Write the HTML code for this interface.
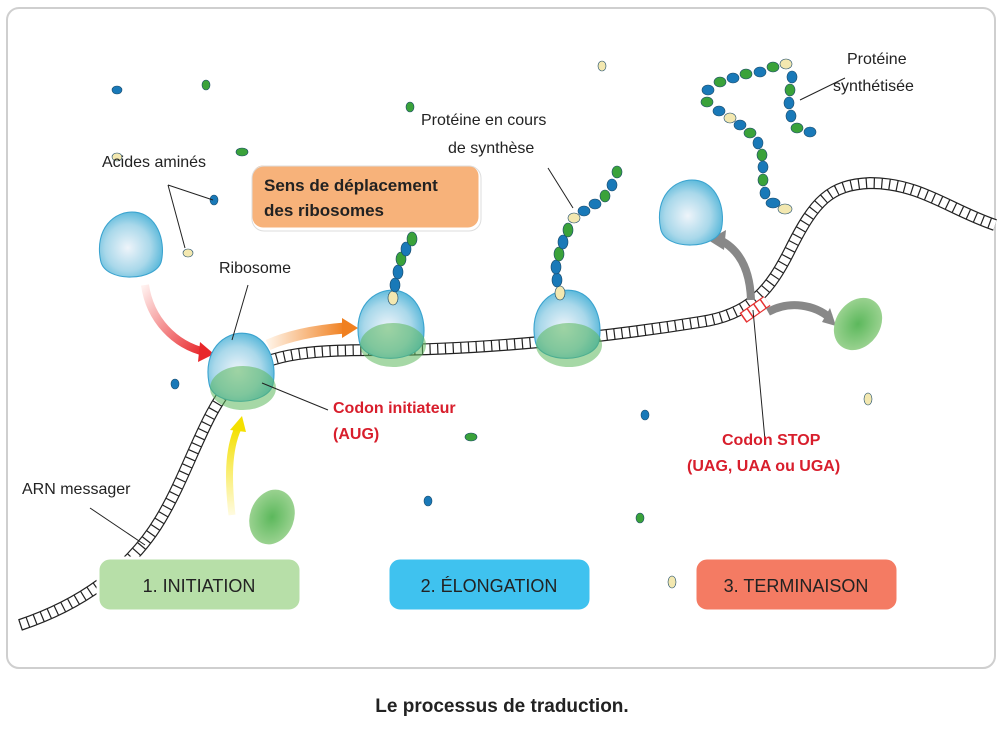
<!DOCTYPE html>
<html><head><meta charset="utf-8"><style>
body{margin:0;background:#fff;width:1000px;height:738px;overflow:hidden}
svg{display:block}
text{font-family:"Liberation Sans",sans-serif}
</style></head><body>
<svg width="1000" height="738" viewBox="0 0 1000 738">
<defs>
<radialGradient id="rb" cx="0.45" cy="0.55" r="0.6"><stop offset="0" stop-color="#eef4fa"/><stop offset="0.6" stop-color="#a9d8ea"/><stop offset="1" stop-color="#4fb4d8"/></radialGradient>
<radialGradient id="gr" cx="0.5" cy="0.5" r="0.6"><stop offset="0" stop-color="#5cb85c"/><stop offset="1" stop-color="#a6d79a"/></radialGradient>
<linearGradient id="redA" x1="0" y1="0" x2="1" y2="1"><stop offset="0" stop-color="#fff0ee"/><stop offset="1" stop-color="#e8262a"/></linearGradient>
<linearGradient id="orA" x1="0" y1="0" x2="1" y2="0"><stop offset="0" stop-color="#fff3e6"/><stop offset="1" stop-color="#f08020"/></linearGradient>
<linearGradient id="yeA" x1="0" y1="1" x2="0" y2="0"><stop offset="0" stop-color="#fffbe0"/><stop offset="1" stop-color="#f4e000"/></linearGradient>
<g id="ribo"><path d="M-28,10 C-34,-20 -15,-38 5,-36 C25,-34 34,-10 30,10 C26,30 -24,32 -28,10Z" fill="url(#rb)" stroke="#3aa3cf" stroke-width="1"/></g>
<path id="m" d="M20,625 C80,605 130,570 160,520 C190,470 205,410 235,380 C265,355 300,350 380,350 C480,350 600,338 700,322 C750,315 770,290 790,250 C815,200 830,185 870,183 C920,183 950,210 995,225"/>
<path id="sc" d="M743,318 L767,301"/>
</defs>
<rect x="7" y="8" width="988" height="660" rx="12" fill="#fff" stroke="#cfcfcf" stroke-width="2"/>

<!-- mRNA -->
<g fill="none">
<use href="#m" stroke="#222" stroke-width="12"/>
<use href="#m" stroke="#fff" stroke-width="9.6"/>
<use href="#m" stroke="#222" stroke-width="10" stroke-dasharray="1.2 6.5"/>
<use href="#sc" stroke="#e53030" stroke-width="12"/>
<use href="#sc" stroke="#fff" stroke-width="9.6"/>
<use href="#sc" stroke="#e53030" stroke-width="10" stroke-dasharray="1.5 6.5"/>
</g>

<!-- arrows -->
<path d="M145,285 C150,320 175,345 205,352" stroke="url(#redA)" stroke-width="8" fill="none"/>
<polygon points="200,342 214,354 198,362" fill="#e8262a"/>
<path d="M268,345 C290,335 320,330 345,328" stroke="url(#orA)" stroke-width="11" fill="none"/>
<polygon points="342,318 358,328 342,338" fill="#f08020"/>
<path d="M232,515 C228,480 228,450 238,428" stroke="url(#yeA)" stroke-width="7" fill="none"/>
<polygon points="230,430 242,416 246,432" fill="#f4e000"/>
<path d="M751,300 C750,270 740,250 720,240" stroke="#888" stroke-width="8" fill="none"/>
<polygon points="708,240 726,230 724,250" fill="#888"/>
<path d="M768,312 C790,300 815,305 830,318" stroke="#888" stroke-width="8" fill="none"/>
<polygon points="822,322 836,326 830,308" fill="#888"/>

<!-- ribosomes -->
<use href="#ribo" transform="translate(130,250) scale(1.05)"/>
<use href="#ribo" transform="translate(690,218) scale(1.05)"/>
<g transform="translate(240,373)"><use href="#ribo" transform="scale(1.1)"/><ellipse cx="3" cy="15" rx="33" ry="22" fill="#5cb85c" opacity="0.55"/></g>
<g transform="translate(390,330)"><use href="#ribo" transform="scale(1.1)"/><ellipse cx="3" cy="15" rx="33" ry="22" fill="#5cb85c" opacity="0.55"/></g>
<g transform="translate(566,330)"><use href="#ribo" transform="scale(1.1)"/><ellipse cx="3" cy="15" rx="33" ry="22" fill="#5cb85c" opacity="0.55"/></g>
<ellipse cx="272" cy="517" rx="22" ry="28" transform="rotate(20 272 517)" fill="url(#gr)"/>
<ellipse cx="858" cy="324" rx="22" ry="28" transform="rotate(35 858 324)" fill="url(#gr)"/>

<!-- proteins -->
<g stroke="#1a4a6a" stroke-width="0.6">
<ellipse cx="393" cy="298" rx="5" ry="7" fill="#f3e8b0"/>
<ellipse cx="395" cy="285" rx="5" ry="7" fill="#1979b8"/><ellipse cx="398" cy="272" rx="5" ry="7" fill="#1979b8"/><ellipse cx="401" cy="259" rx="5" ry="7" fill="#3aa23a"/><ellipse cx="406" cy="249" rx="5" ry="7" fill="#1979b8"/><ellipse cx="412" cy="239" rx="5" ry="7" fill="#3aa23a"/>
<ellipse cx="560" cy="293" rx="5" ry="7" fill="#f3e8b0"/>
<ellipse cx="557" cy="280" rx="5" ry="7" fill="#1979b8"/><ellipse cx="556" cy="267" rx="5" ry="7" fill="#1979b8"/><ellipse cx="559" cy="254" rx="5" ry="7" fill="#3aa23a"/><ellipse cx="563" cy="242" rx="5" ry="7" fill="#1979b8"/><ellipse cx="568" cy="230" rx="5" ry="7" fill="#3aa23a"/><ellipse cx="574" cy="218" rx="6" ry="5" fill="#f3e8b0"/><ellipse cx="584" cy="211" rx="6" ry="5" fill="#1979b8"/><ellipse cx="595" cy="204" rx="6" ry="5" fill="#1979b8"/><ellipse cx="605" cy="196" rx="5" ry="6" fill="#3aa23a"/><ellipse cx="612" cy="185" rx="5" ry="6" fill="#1979b8"/><ellipse cx="617" cy="172" rx="5" ry="6" fill="#3aa23a"/>
<ellipse cx="785" cy="209" rx="7" ry="5" fill="#f3e8b0"/><ellipse cx="773" cy="203" rx="7" ry="5" fill="#1979b8"/><ellipse cx="765" cy="193" rx="5" ry="6" fill="#1979b8"/><ellipse cx="763" cy="180" rx="5" ry="6" fill="#3aa23a"/><ellipse cx="763" cy="167" rx="5" ry="6" fill="#1979b8"/><ellipse cx="762" cy="155" rx="5" ry="6" fill="#3aa23a"/><ellipse cx="758" cy="143" rx="5" ry="6" fill="#1979b8"/><ellipse cx="750" cy="133" rx="6" ry="5" fill="#3aa23a"/><ellipse cx="740" cy="125" rx="6" ry="5" fill="#1979b8"/><ellipse cx="730" cy="118" rx="6" ry="5" fill="#f3e8b0"/><ellipse cx="719" cy="111" rx="6" ry="5" fill="#1979b8"/><ellipse cx="707" cy="102" rx="6" ry="5" fill="#3aa23a"/><ellipse cx="708" cy="90" rx="6" ry="5" fill="#1979b8"/><ellipse cx="720" cy="82" rx="6" ry="5" fill="#3aa23a"/><ellipse cx="733" cy="78" rx="6" ry="5" fill="#1979b8"/><ellipse cx="746" cy="74" rx="6" ry="5" fill="#3aa23a"/><ellipse cx="760" cy="72" rx="6" ry="5" fill="#1979b8"/><ellipse cx="773" cy="67" rx="6" ry="5" fill="#3aa23a"/><ellipse cx="786" cy="64" rx="6" ry="5" fill="#f3e8b0"/><ellipse cx="792" cy="77" rx="5" ry="6" fill="#1979b8"/><ellipse cx="790" cy="90" rx="5" ry="6" fill="#3aa23a"/><ellipse cx="789" cy="103" rx="5" ry="6" fill="#1979b8"/><ellipse cx="791" cy="116" rx="5" ry="6" fill="#1979b8"/><ellipse cx="797" cy="128" rx="6" ry="5" fill="#3aa23a"/><ellipse cx="810" cy="132" rx="6" ry="5" fill="#1979b8"/>
<!-- free amino acids -->
<ellipse cx="117" cy="90" rx="5" ry="4" fill="#1979b8"/><ellipse cx="206" cy="85" rx="4" ry="5" fill="#3aa23a"/><ellipse cx="242" cy="152" rx="6" ry="4" fill="#3aa23a"/><ellipse cx="214" cy="200" rx="4" ry="5" fill="#1979b8"/><ellipse cx="188" cy="253" rx="5" ry="4" fill="#f3e8b0"/><ellipse cx="117" cy="157" rx="5" ry="4" fill="#f3e8b0"/><ellipse cx="602" cy="66" rx="4" ry="5" fill="#f3e8b0"/><ellipse cx="410" cy="107" rx="4" ry="5" fill="#3aa23a"/><ellipse cx="175" cy="384" rx="4" ry="5" fill="#1979b8"/><ellipse cx="471" cy="437" rx="6" ry="4" fill="#3aa23a"/><ellipse cx="645" cy="415" rx="4" ry="5" fill="#1979b8"/><ellipse cx="868" cy="399" rx="4" ry="6" fill="#f3e8b0"/><ellipse cx="428" cy="501" rx="4" ry="5" fill="#1979b8"/><ellipse cx="640" cy="518" rx="4" ry="5" fill="#3aa23a"/><ellipse cx="672" cy="582" rx="4" ry="6" fill="#f3e8b0"/>
</g>

<!-- leader lines -->
<g stroke="#222" stroke-width="1" fill="none">
<path d="M168,185 L213,200 M168,185 L185,248 M248,285 L232,340 M328,410 L262,383 M548,168 L573,208 M845,78 L800,100 M765,440 L753,310 M90,508 L145,545"/>
</g>

<!-- labels -->
<g font-size="16" fill="#222">
<text x="102" y="167">Acides aminés</text>
<text x="219" y="273">Ribosome</text>
<text x="421" y="125">Protéine en cours</text>
<text x="448" y="153">de synthèse</text>
<text x="847" y="64">Protéine</text>
<text x="833" y="91">synthétisée</text>
<text x="22" y="494">ARN messager</text>
</g>
<g font-size="16" font-weight="bold" fill="#d81e2c">
<text x="333" y="413">Codon initiateur</text>
<text x="333" y="439">(AUG)</text>
<text x="722" y="445">Codon STOP</text>
<text x="687" y="471">(UAG, UAA ou UGA)</text>
</g>
<rect x="251" y="164" width="229" height="65" rx="12" fill="#f7b27a" stroke="#fff" stroke-width="3"/>
<rect x="251" y="164" width="229" height="65" rx="12" fill="none" stroke="#ddd" stroke-width="1" transform="translate(1,2)"/>
<text x="264" y="191" font-size="17" font-weight="bold" fill="#222">Sens de déplacement</text>
<text x="264" y="216" font-size="17" font-weight="bold" fill="#222">des ribosomes</text>

<rect x="98" y="558" width="203" height="53" rx="12" fill="#b7dfa8" stroke="#fff" stroke-width="3"/>
<text x="199" y="592" font-size="18" text-anchor="middle" fill="#222">1. INITIATION</text>
<rect x="388" y="558" width="203" height="53" rx="12" fill="#3fc2ef" stroke="#fff" stroke-width="3"/>
<text x="489" y="592" font-size="18" text-anchor="middle" fill="#222">2. ÉLONGATION</text>
<rect x="695" y="558" width="203" height="53" rx="12" fill="#f47b63" stroke="#fff" stroke-width="3"/>
<text x="796" y="592" font-size="18" text-anchor="middle" fill="#222">3. TERMINAISON</text>

<text x="502" y="712" font-size="19" font-weight="bold" text-anchor="middle" fill="#222">Le processus de traduction.</text>
</svg>
</body></html>
